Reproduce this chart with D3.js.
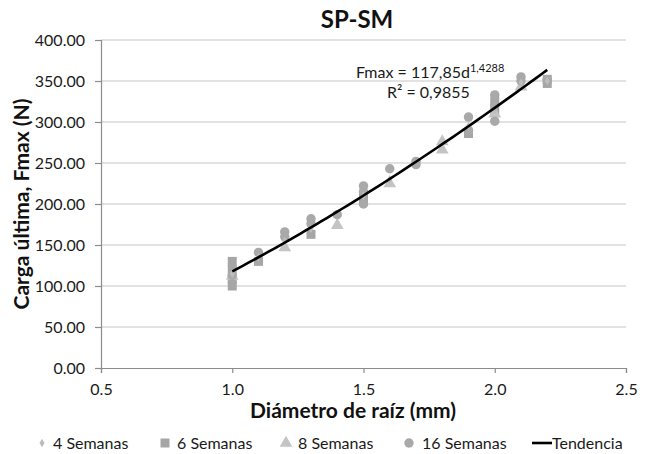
<!DOCTYPE html>
<html>
<head>
<meta charset="utf-8">
<script src="https://cdn.jsdelivr.net/npm/d3@7"></script>
<style>
  html, body { margin: 0; padding: 0; background: #fff; }
  svg { display: block; font-family: Lato, "Open Sans", sans-serif; }
</style>
</head>
<body>
<svg id="chart" width="647" height="454"></svg>
<script>
// Root diameter (mm) vs. ultimate load (N), by plant age
const sem4x  = [1.0, 1.1, 1.2, 1.3, 1.5, 1.6, 1.9, 2.0, 2.1, 2.2];
const sem4y  = [115, 135, 155, 170, 210, 230, 295, 315, 348, 350];

const sem6x  = [1.0, 1.0, 1.0, 1.0, 1.1, 1.3, 1.5, 1.5, 1.9, 2.0, 2.0, 2.2, 2.2];
const sem6y  = [130, 120, 108, 100, 130, 163, 203, 210, 286, 313, 325, 347, 352];

const sem8x  = [1.0, 1.2, 1.4, 1.6, 1.8, 1.8, 2.0, 2.1];
const sem8y  = [112, 147, 174, 225, 276, 266, 310, 343];

const sem16x = [1.0, 1.1, 1.2, 1.2, 1.3, 1.3, 1.4, 1.5, 1.5, 1.5, 1.6, 1.7, 1.7, 1.9, 1.9, 2.0, 2.0, 2.0, 2.1, 2.1, 2.2];
const sem16y = [113, 141, 166, 160, 182, 176, 187, 222, 215, 200, 243, 252, 248, 306, 290, 333, 320, 301, 355, 350, 352];

// Power-law fit shown on the chart: Fmax = a * d^b
const trendA = 117.85;
const trendB = 1.4288;
const trendR2 = "0,9855";
const trendDomain = [1.0, 2.2];

const xTicks = [0.5, 1.0, 1.5, 2.0, 2.5];
const yTicks = [0, 50, 100, 150, 200, 250, 300, 350, 400];

const seriesNames = ["4 Semanas", "6 Semanas", "8 Semanas", "16 Semanas"];
const trendName = "Tendencia";

const svg = d3.select("#chart");
const m = { left: 101, right: 626, top: 40, bottom: 368 };

const x = d3.scaleLinear().domain([0.5, 2.5]).range([m.left, m.right]);
const y = d3.scaleLinear().domain([0, 400]).range([m.bottom, m.top]);

const gridColor = "#c6c6c6";
const axisColor = "#8c8c8c";

// horizontal gridlines
svg.append("g").selectAll("line").data(yTicks.filter(v => v > 0)).join("line")
  .attr("x1", m.left).attr("x2", m.right)
  .attr("y1", d => y(d)).attr("y2", d => y(d))
  .attr("stroke", gridColor).attr("stroke-width", 1.2);

// y axis
const yAxis = svg.append("g").attr("transform", `translate(${m.left},0)`)
  .call(d3.axisLeft(y).tickValues(yTicks).tickFormat(d3.format(".2f")).tickSize(6).tickPadding(10));
// x axis
const xAxis = svg.append("g").attr("transform", `translate(0,${m.bottom})`)
  .call(d3.axisBottom(x).tickValues(xTicks).tickFormat(d3.format(".1f")).tickSize(5).tickPadding(11));

[yAxis, xAxis].forEach(g => {
  g.select(".domain").attr("stroke", axisColor).attr("stroke-width", 1.2);
  g.selectAll(".tick line").attr("stroke", axisColor).attr("stroke-width", 1.2);
  g.selectAll(".tick text").attr("fill", "#1a1a1a").style("font-size", "16px")
    .style("font-family", "Lato, sans-serif");
});

// trend curve from the fitted equation
const trendPts = d3.range(0, 61).map(i => {
  const d = trendDomain[0] + (trendDomain[1] - trendDomain[0]) * i / 60;
  return [d, trendA * Math.pow(d, trendB)];
});

// markers
const sym = (type, size) => d3.symbol().type(type).size(size)();
const layers = [
  { xs: sem6x,  ys: sem6y,  path: sym(d3.symbolSquare, 81),  fill: "#a6a6a6" },
  { xs: sem8x,  ys: sem8y,  path: sym(d3.symbolTriangle, 70), fill: "#c4c4c4" },
  { xs: sem16x, ys: sem16y, path: sym(d3.symbolCircle, 70),  fill: "#a9a9a9" },
  { xs: sem4x,  ys: sem4y,  path: sym(d3.symbolDiamond, 22), fill: "#bdbdbd" }
];
layers.forEach(L => {
  svg.append("g").selectAll("path").data(L.xs.map((v, i) => [v, L.ys[i]])).join("path")
    .attr("d", L.path)
    .attr("transform", d => `translate(${x(d[0])},${y(d[1])})`)
    .attr("fill", L.fill);
});

svg.append("path").datum(trendPts)
  .attr("d", d3.line().x(d => x(d[0])).y(d => y(d[1])))
  .attr("fill", "none").attr("stroke", "#000").attr("stroke-width", 2.6);

// equation labels
const eq = svg.append("text").attr("x", 356).attr("y", 78)
  .attr("fill", "#1a1a1a").style("font-size", "16px");
eq.append("tspan").text("Fmax = " + d3.format(".2f")(trendA).replace(".", ",") + "d");
eq.append("tspan").attr("dy", -6).style("font-size", "11px")
  .text(String(trendB).replace(".", ","));
svg.append("text").attr("x", 387).attr("y", 98)
  .attr("fill", "#1a1a1a").style("font-size", "16px")
  .text("R² = " + trendR2);

// titles
svg.append("text").attr("x", 357).attr("y", 28).attr("text-anchor", "middle")
  .attr("font-weight", "bold").style("font-size", "24px").attr("fill", "#111").text("SP-SM");
svg.append("text").attr("x", 353).attr("y", 418).attr("text-anchor", "middle")
  .attr("font-weight", "bold").style("font-size", "21px").attr("fill", "#111")
  .text("Diámetro de raíz (mm)");
svg.append("text").attr("transform", `translate(29,${(m.top + m.bottom) / 2}) rotate(-90)`)
  .attr("text-anchor", "middle")
  .attr("font-weight", "bold").style("font-size", "21px").attr("fill", "#111")
  .text("Carga última, Fmax (N)");

// legend
const legY = 443;
const legItems = [
  { mx: 42,  tx: 53,  path: sym(d3.symbolDiamond, 22), fill: "#bdbdbd", name: seriesNames[0] },
  { mx: 165, tx: 177, path: sym(d3.symbolSquare, 81),  fill: "#a6a6a6", name: seriesNames[1] },
  { mx: 286, tx: 298, path: sym(d3.symbolTriangle, 70), fill: "#c4c4c4", name: seriesNames[2] },
  { mx: 409, tx: 422, path: sym(d3.symbolCircle, 70),  fill: "#a9a9a9", name: seriesNames[3] }
];
const leg = svg.append("g");
legItems.forEach(it => {
  leg.append("path").attr("d", it.path).attr("transform", `translate(${it.mx},${legY})`).attr("fill", it.fill);
  leg.append("text").attr("x", it.tx).attr("y", legY + 5.5).attr("fill", "#1a1a1a")
    .style("font-size", "16px").text(it.name);
});
leg.append("line").attr("x1", 532).attr("x2", 552).attr("y1", legY).attr("y2", legY)
  .attr("stroke", "#000").attr("stroke-width", 2.6);
leg.append("text").attr("x", 552).attr("y", legY + 5.5).attr("fill", "#1a1a1a")
  .style("font-size", "16px").text(trendName);
</script>
</body>
</html>
